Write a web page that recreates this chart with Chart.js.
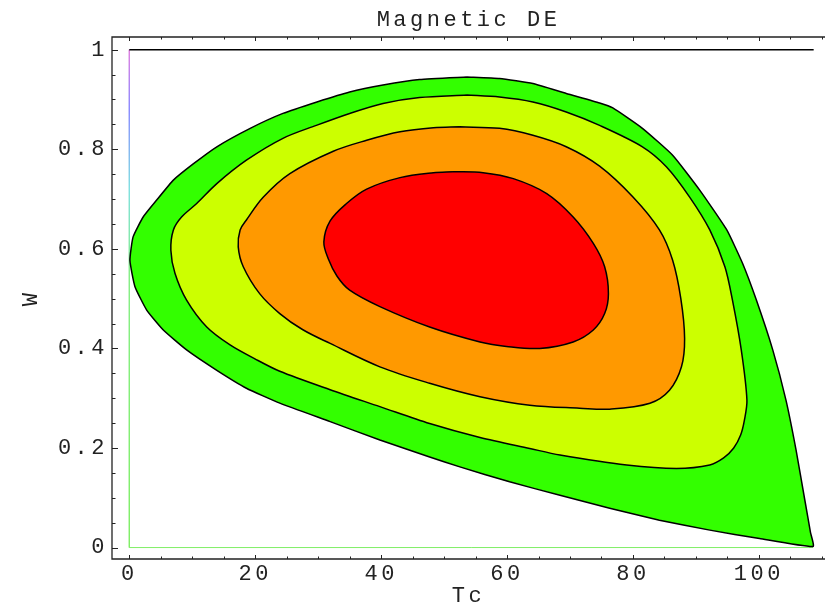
<!DOCTYPE html>
<html>
<head>
<meta charset="utf-8">
<title>Magnetic DE</title>
<script src="https://cdn.jsdelivr.net/npm/chart.js@4.4.1/dist/chart.umd.min.js"></script>
<style>
  body { margin: 0; background: #fff; }
  canvas { display: block; }
</style>
</head>
<body>
<canvas id="chart" width="825" height="608"></canvas>
<script>
// contour levels (Tc, W), outermost first
const greenTc = [53.6, 58.8, 64.1, 69.4, 74.7, 76.8, 81.5, 86.3, 90.6, 94.9, 97.4, 99.6, 102.2, 104.3, 105.9, 107.3, 108.2, 108.6,
    100.1, 92.2, 84.2, 76.3, 68.4, 60.4, 52.5, 47.7, 39.8, 31.9, 23.9, 18.6, 13.9, 9.1, 5.4, 2.76, 0.9, 0.1, 0.6,
    2.2, 4.35, 7.0, 10.2, 13.9, 19.2, 24.4, 29.8, 35.0, 40.3, 46.1, 53.6];
const greenW = [0.945, 0.942, 0.932, 0.912, 0.893, 0.883, 0.842, 0.788, 0.718, 0.638, 0.571, 0.497, 0.397, 0.296, 0.196, 0.095, 0.030, 0.002,
    0.018, 0.035, 0.055, 0.079, 0.105, 0.132, 0.162, 0.182, 0.216, 0.253, 0.290, 0.320, 0.356, 0.397, 0.437, 0.477, 0.524, 0.577, 0.624,
    0.664, 0.698, 0.738, 0.771, 0.805, 0.842, 0.872, 0.895, 0.915, 0.929, 0.940, 0.945];

const yellowTc = [53.6, 58.8, 64.1, 69.4, 74.7, 81.5, 85.3, 89.0, 92.2, 94.6, 95.8, 97.2, 98.1, 97.7, 97.1, 96.0, 94.4, 92.2, 86.9, 79.0,
    68.4, 63.6, 55.7, 47.7, 39.8, 31.9, 23.9, 19.95, 16.0, 12.3, 9.1, 7.25, 6.6, 7.0, 8.3, 10.7, 13.9, 18.6, 24.4, 29.7, 35.0, 40.3, 46.1, 53.6];
const yellowW = [0.909, 0.905, 0.895, 0.875, 0.848, 0.805, 0.765, 0.704, 0.638, 0.564, 0.497, 0.397, 0.296, 0.256, 0.226, 0.200, 0.180, 0.166, 0.159, 0.166,
    0.186, 0.199, 0.221, 0.249, 0.283, 0.317, 0.354, 0.379, 0.407, 0.443, 0.497, 0.551, 0.597, 0.638, 0.664, 0.691, 0.731, 0.778, 0.822, 0.848, 0.872, 0.892, 0.904, 0.909];

const orangeTc = [52.5, 58.8, 64.1, 69.4, 74.7, 80.0, 84.2, 86.3, 87.6, 88.2, 87.7, 85.8, 82.7, 76.3, 71.5, 63.6, 55.7, 47.7,
    39.8, 31.9, 27.5, 23.9, 20.7, 18.1, 17.3, 17.6, 18.6, 21.3, 25.5, 32.4, 37.7, 43.0, 48.3, 52.5];
const orangeW = [0.845, 0.842, 0.828, 0.805, 0.766, 0.704, 0.638, 0.577, 0.500, 0.420, 0.363, 0.316, 0.290, 0.278, 0.280, 0.286, 0.303, 0.330,
    0.363, 0.410, 0.438, 0.470, 0.510, 0.564, 0.604, 0.638, 0.658, 0.704, 0.751, 0.796, 0.818, 0.835, 0.843, 0.845];

const redTc = [51.4, 56.2, 61.0, 66.3, 70.5, 73.7, 75.5, 76.1, 75.5, 73.7, 70.5, 65.2, 59.9, 55.7, 47.7, 39.8, 35.0, 33.0,
    31.6, 30.9, 31.9, 34.5, 37.7, 43.0, 48.3, 51.4];
const redW = [0.755, 0.753, 0.741, 0.711, 0.664, 0.611, 0.564, 0.510, 0.470, 0.437, 0.413, 0.400, 0.404, 0.413, 0.443, 0.484, 0.517, 0.545,
    0.580, 0.614, 0.656, 0.691, 0.720, 0.743, 0.753, 0.755];

// W = 1 limit and the edges of the plotted region
const limitTc = [0, 108.7];
const limitW = [1, 1];
const edgeTc = [0, 0, 108.6];
const edgeW = [1, 0, 0];

const tcTicks = [0, 20, 40, 60, 80, 100];
const wTicks = [0, 0.2, 0.4, 0.6, 0.8, 1];
const tcMinor = [5, 10, 15, 25, 30, 35, 45, 50, 55, 65, 70, 75, 85, 90, 95, 105, 110];
const wMinor = [0.05, 0.1, 0.15, 0.25, 0.3, 0.35, 0.45, 0.5, 0.55, 0.65, 0.7, 0.75, 0.85, 0.9, 0.95];

const FONT = "'Liberation Mono', 'Courier New', monospace";
const INK = '#222';

const pts = (xs, ys) => xs.map((x, i) => ({ x: x, y: ys[i] }));

function contour(data, color, order, tension) {
    return {
        data: data, order: order,
        showLine: true, fill: 'shape',
        backgroundColor: color, borderColor: '#000', borderWidth: 1.5,
        pointRadius: 0, tension: tension
    };
}

function edgeGradient(ctx) {
    const chart = ctx.chart;
    if (!chart.chartArea) return '#80ee80';
    const ys = chart.scales.y;
    const g = chart.ctx.createLinearGradient(0, ys.getPixelForValue(1), 0, ys.getPixelForValue(0));
    g.addColorStop(0, '#e080e0');
    g.addColorStop(0.12, '#8a8aff');
    g.addColorStop(0.28, '#80e0e0');
    g.addColorStop(0.45, '#86ee86');
    g.addColorStop(1, '#80ee66');
    return g;
}

// Mathematica style frame: inward ticks, no right edge
const framePlugin = {
    id: 'frame',
    afterDatasetsDraw(chart) {
        const { ctx, chartArea: a, scales: { x, y } } = chart;
        ctx.save();
        ctx.strokeStyle = INK;
        ctx.lineWidth = 1.3;
        ctx.beginPath();
        ctx.moveTo(a.right, a.top); ctx.lineTo(a.left, a.top);
        ctx.lineTo(a.left, a.bottom); ctx.lineTo(a.right, a.bottom);
        ctx.stroke();
        ctx.lineWidth = 1;
        ctx.beginPath();
        const tx = (v, len) => {
            const p = Math.round(x.getPixelForValue(v)) + 0.5;
            ctx.moveTo(p, a.bottom); ctx.lineTo(p, a.bottom - len);
            ctx.moveTo(p, a.top); ctx.lineTo(p, a.top + len);
        };
        const ty = (v, len) => {
            const p = Math.round(y.getPixelForValue(v)) + 0.5;
            ctx.moveTo(a.left, p); ctx.lineTo(a.left + len, p);
        };
        tcTicks.forEach(v => tx(v, 4));
        tcMinor.forEach(v => tx(v, 2.5));
        wTicks.forEach(v => ty(v, 6));
        wMinor.forEach(v => ty(v, 3.5));
        ctx.stroke();
        ctx.restore();
    }
};

const spacingPlugin = {
    id: 'spacing',
    beforeDraw(chart) { chart.ctx.letterSpacing = '3.5px'; },
    afterDraw(chart) { chart.ctx.letterSpacing = '0px'; }
};

new Chart(document.getElementById('chart'), {
    type: 'scatter',
    data: {
        datasets: [
            contour(pts(redTc, redW), '#ff0000', 1, 0.35),
            contour(pts(orangeTc, orangeW), '#ff9900', 2, 0.35),
            contour(pts(yellowTc, yellowW), '#ccff00', 3, 0.3),
            contour(pts(greenTc, greenW), '#33ff00', 4, 0.15),
            { data: pts(limitTc, limitW), order: 5, showLine: true, borderColor: '#000', borderWidth: 1.6, pointRadius: 0 },
            { data: pts(edgeTc, edgeW), order: 6, showLine: true, borderColor: edgeGradient, borderWidth: 1, pointRadius: 0 }
        ]
    },
    options: {
        responsive: false, animation: false,
        layout: { padding: 0 },
        plugins: {
            legend: { display: false },
            tooltip: { enabled: false },
            title: {
                display: true, text: 'Magnetic DE', fullSize: false, color: INK,
                font: { family: FONT, size: 22, weight: 'normal', lineHeight: 1.2 },
                padding: { top: 7, bottom: 3.6 }
            }
        },
        scales: {
            x: {
                type: 'linear', min: -2.75, max: 110.5,
                grid: { display: false, drawTicks: false }, border: { display: false },
                afterBuildTicks: s => { s.ticks = tcTicks.map(v => ({ value: v })); },
                afterFit: s => { s.height = 49; },
                ticks: { color: INK, padding: 2, maxRotation: 0, font: { family: FONT, size: 22 }, callback: v => String(v) },
                title: { display: true, text: 'Tc', color: INK, padding: { top: 0, bottom: 1 }, font: { family: FONT, size: 22, lineHeight: 1 } }
            },
            y: {
                type: 'linear', min: -0.023, max: 1.0255,
                grid: { display: false, drawTicks: false }, border: { display: false },
                afterBuildTicks: s => { s.ticks = wTicks.map(v => ({ value: v })); },
                afterFit: s => { s.width = 112; },
                ticks: { color: INK, padding: 4, font: { family: FONT, size: 22 }, callback: v => String(v) },
                title: { display: true, text: 'W', color: INK, padding: { top: 18, bottom: 0 }, font: { family: FONT, size: 22, lineHeight: 1.2 } }
            }
        }
    },
    plugins: [framePlugin, spacingPlugin]
});
</script>
</body>
</html>
